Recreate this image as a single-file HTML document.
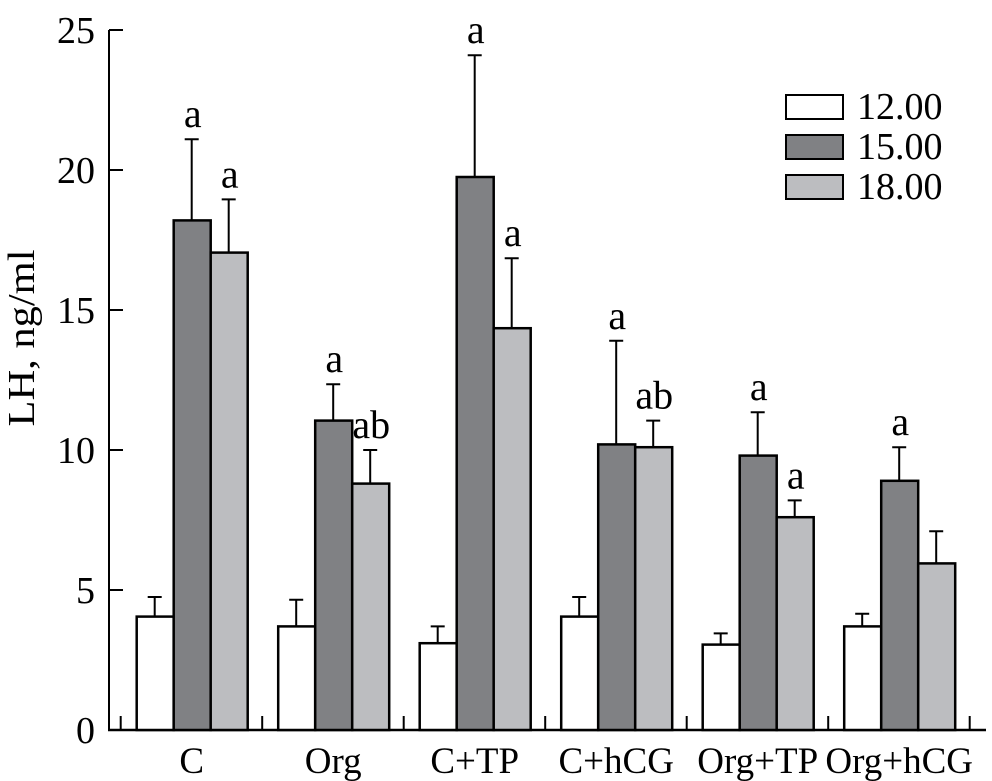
<!DOCTYPE html>
<html><head><meta charset="utf-8"><style>
body{margin:0;background:#fff}
svg{display:block;font-family:"Liberation Serif",serif}
</style></head><body>
<svg id="chart" width="992" height="781" xmlns="http://www.w3.org/2000/svg"></svg>
<script>
const categories=["C","Org","C+TP","C+hCG","Org+TP","Org+hCG"];
const seriesNames=["12.00","15.00","18.00"];
const s1200=[4.05,3.7,3.1,4.05,3.05,3.7];
const e1200=[0.7,0.95,0.6,0.7,0.4,0.45];
const s1500=[18.2,11.05,19.75,10.2,9.8,8.9];
const e1500=[2.9,1.3,4.35,3.7,1.55,1.2];
const s1800=[17.05,8.8,14.35,10.1,7.6,5.95];
const e1800=[1.9,1.2,2.5,0.95,0.6,1.15];
const l1500=["a","a","a","a","a","a"];
const l1800=["a","ab","a","ab","a",""];
const yTicks=[0,5,10,15,20,25];
const NS="http://www.w3.org/2000/svg";
const svg=document.getElementById('chart');
function el(t,a,p){const e=document.createElementNS(NS,t);for(const k in a)e.setAttribute(k,a[k]);(p||svg).appendChild(e);return e;}
const y=v=>730-v*28;
const gx=i=>120.7+i*141.5;
const colors=["#ffffff","#808184","#bcbdc0"];
const vals=[s1200,s1500,s1800],errs=[e1200,e1500,e1800],labs=[null,l1500,l1800];
let a=el('line',{x1:109,y1:y(25),x2:109,y2:731,stroke:'#000','stroke-width':2});

a=el('line',{x1:108,y1:730,x2:986,y2:730,stroke:'#000','stroke-width':2.5});

yTicks.forEach(v=>{
 let t=el('line',{x1:109,y1:y(v),x2:123,y2:y(v),stroke:'#000','stroke-width':2});
 
 let tx=el('text',{x:95,y:y(v)+13,'text-anchor':'end','font-size':38});tx.textContent=v;
 
});
for(let i=0;i<=categories.length;i++){
 let t=el('line',{x1:gx(i),y1:730,x2:gx(i),y2:716,stroke:'#000','stroke-width':2});
 
}
categories.forEach((c,i)=>{
 for(let s=0;s<3;s++){
  const x0=gx(i)+16+s*37;const v=vals[s][i],e=errs[s][i];
  let eb=el('path',{d:`M${x0+18} ${y(v)}V${y(v+e)}M${x0+11} ${y(v+e)}H${x0+25}`,stroke:'#000','stroke-width':2,fill:'none'});
  
  let r=el('rect',{x:x0,y:y(v),width:37,height:730-y(v),fill:colors[s],stroke:'#000','stroke-width':2.5});
  
  if(labs[s]&&labs[s][i]){let t=el('text',{x:x0+19,y:y(v+e)-12,'text-anchor':'middle','font-size':40});t.textContent=labs[s][i];
   }
 }
 let t=el('text',{x:gx(i)+71,y:773,'text-anchor':'middle','font-size':37});t.textContent=c;
 
});
let yl=el('text',{x:0,y:0,transform:'translate(34,338) rotate(-90)','text-anchor':'middle','font-size':38,textLength:177,lengthAdjust:'spacingAndGlyphs'});yl.textContent='LH, ng/ml';

seriesNames.forEach((n,s)=>{
 let r=el('rect',{x:786,y:95+s*40,width:57,height:24,fill:colors[s],stroke:'#000','stroke-width':2});
 
 let t=el('text',{x:857,y:119+s*40,'font-size':38});t.textContent=n;
 
});
</script>
</body></html>
